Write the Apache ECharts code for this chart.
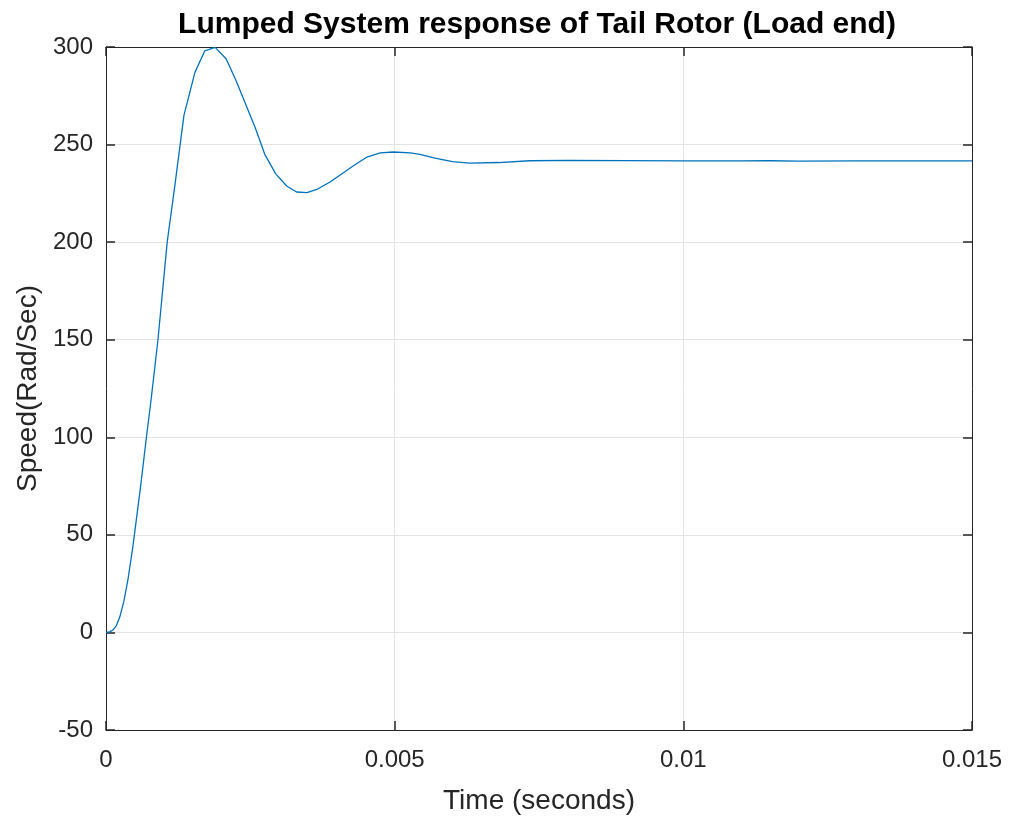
<!DOCTYPE html>
<html>
<head>
<meta charset="utf-8">
<script src="https://cdn.jsdelivr.net/npm/echarts@6/dist/echarts.min.js"></script>
<style>
  html, body { margin: 0; padding: 0; background: #fff; }
  #chart { width: 1016px; height: 817px; }
</style>
</head>
<body>
<div id="chart"></div>
<script>
// time samples (s) and speed (rad/s)
const timeData = [0, 0.00006, 0.00012, 0.00018, 0.00024, 0.00031, 0.00038, 0.00047, 0.0006, 0.0007, 0.00078, 0.0009, 0.00106,
  0.0012, 0.00135, 0.00154, 0.00171, 0.00189, 0.00208, 0.00225, 0.00258, 0.00275, 0.00294,
  0.00313, 0.0033, 0.00348, 0.00365, 0.00388, 0.00428, 0.00452, 0.00475, 0.00498, 0.00527,
  0.00544, 0.0057, 0.006, 0.0063, 0.0068, 0.00734, 0.008, 0.009, 0.01, 0.011, 0.0115, 0.012, 0.013, 0.014, 0.015];
const speedData = [0, 0.3, 1.2, 3.5, 8, 16, 27, 45, 75, 100, 119, 150, 200,
  230.6, 265, 287, 298, 299.8, 294, 283, 259, 245, 235,
  228.8, 225.7, 225.4, 227, 230.8, 239, 243.6, 245.7, 246.2, 245.7,
  245, 243, 241.3, 240.5, 240.8, 241.7, 241.9, 241.8, 241.6, 241.6, 241.7, 241.5, 241.6, 241.6, 241.6];
const xTicks = [0, 0.005, 0.01, 0.015];
const yTicks = [-50, 0, 50, 100, 150, 200, 250, 300];

const font = 'Liberation Sans, Arial, sans-serif';
const axisColor = '#262626';

const chart = echarts.init(document.getElementById('chart'));

const xBase = {
  type: 'value', min: 0, max: 0.015, interval: 0.005,
  axisLine: { onZero: false, lineStyle: { color: axisColor, width: 1 } },
  axisTick: { inside: true, length: 9, lineStyle: { color: axisColor, width: 1.5 } }
};
const yBase = {
  type: 'value', min: -50, max: 300, interval: 50,
  axisLine: { onZero: false, lineStyle: { color: axisColor, width: 1 } },
  axisTick: { inside: true, length: 9, lineStyle: { color: axisColor, width: 1.5 } }
};

chart.setOption({
  animation: false,
  backgroundColor: '#fff',
  title: {
    text: 'Lumped System response of Tail Rotor (Load end)',
    left: 532, top: 5, textAlign: 'center',
    textStyle: { fontFamily: font, fontSize: 30, fontWeight: 'bold', color: '#000' }
  },
  grid: { left: 106, right: 44, top: 47, bottom: 87, containLabel: false, outerBoundsMode: 'none' },
  xAxis: [
    Object.assign({}, xBase, {
      position: 'bottom',
      name: 'Time (seconds)', nameLocation: 'middle', nameGap: 57,
      nameTextStyle: { fontFamily: font, fontSize: 28, color: axisColor },
      axisLabel: {
        fontFamily: font, fontSize: 24, color: axisColor, margin: 18,
        formatter: v => {
          const t = xTicks.find(k => Math.abs(k - v) < 1e-9);
          return t === undefined ? '' : String(t);
        }
      },
      splitLine: { show: true, lineStyle: { color: '#e3e3e3', width: 1 } }
    }),
    Object.assign({}, xBase, {
      position: 'top', axisLabel: { show: false }, splitLine: { show: false }
    })
  ],
  yAxis: [
    Object.assign({}, yBase, {
      position: 'left',
      name: 'Speed(Rad/Sec)', nameLocation: 'middle', nameGap: 64,
      nameTextStyle: { fontFamily: font, fontSize: 28, color: axisColor },
      axisLabel: {
        fontFamily: font, fontSize: 24, color: axisColor, margin: 13,
        formatter: v => yTicks.includes(v) ? String(v) : ''
      },
      splitLine: { show: true, lineStyle: { color: '#e3e3e3', width: 1 } }
    }),
    Object.assign({}, yBase, {
      position: 'right', axisLabel: { show: false }, splitLine: { show: false }
    })
  ],
  series: [{
    type: 'line',
    data: timeData.map((t, i) => [t, speedData[i]]),
    showSymbol: false,
    smooth: false,
    lineStyle: { color: '#0072BD', width: 1.3 },
    z: 3
  }]
});
</script>
</body>
</html>
